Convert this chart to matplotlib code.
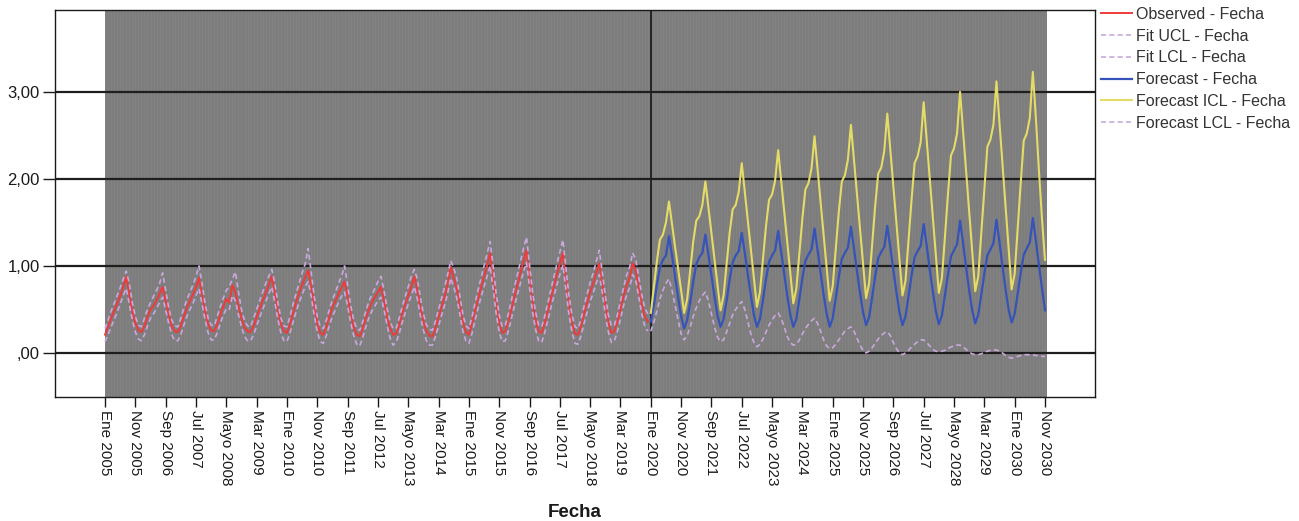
import numpy as np
import matplotlib
matplotlib.use("Agg")
from matplotlib import pyplot as plt

plt.rcParams["font.family"] = ["Liberation Sans", "DejaVu Sans"]

# x tick labels, one every 10 months starting Ene 2005
tick_labels = ["Ene 2005", "Nov 2005", "Sep 2006", "Jul 2007", "Mayo 2008", "Mar 2009",
               "Ene 2010", "Nov 2010", "Sep 2011", "Jul 2012", "Mayo 2013", "Mar 2014",
               "Ene 2015", "Nov 2015", "Sep 2016", "Jul 2017", "Mayo 2018", "Mar 2019",
               "Ene 2020", "Nov 2020", "Sep 2021", "Jul 2022", "Mayo 2023", "Mar 2024",
               "Ene 2025", "Nov 2025", "Sep 2026", "Jul 2027", "Mayo 2028", "Mar 2029",
               "Ene 2030", "Nov 2030"]
y_ticks = [0, 1, 2, 3]
y_tick_labels = [",00", "1,00", "2,00", "3,00"]

# monthly values Jan..Dec, one row per year (2005-2019)
observed = [
    [0.21, 0.30, 0.40, 0.48, 0.57, 0.66, 0.76, 0.88, 0.68, 0.48, 0.34, 0.26],
    [0.24, 0.31, 0.42, 0.50, 0.54, 0.61, 0.68, 0.76, 0.60, 0.44, 0.31, 0.25],
    [0.24, 0.31, 0.42, 0.52, 0.60, 0.67, 0.76, 0.86, 0.67, 0.48, 0.33, 0.26],
    [0.25, 0.33, 0.44, 0.53, 0.62, 0.58, 0.78, 0.70, 0.54, 0.40, 0.29, 0.25],
    [0.24, 0.31, 0.41, 0.51, 0.60, 0.69, 0.78, 0.88, 0.69, 0.49, 0.33, 0.25],
    [0.23, 0.33, 0.46, 0.58, 0.69, 0.78, 0.87, 0.95, 0.77, 0.54, 0.34, 0.23],
    [0.21, 0.30, 0.42, 0.52, 0.60, 0.68, 0.75, 0.82, 0.65, 0.45, 0.30, 0.21],
    [0.19, 0.28, 0.40, 0.50, 0.58, 0.64, 0.70, 0.76, 0.60, 0.42, 0.28, 0.21],
    [0.22, 0.32, 0.45, 0.56, 0.66, 0.76, 0.88, 0.72, 0.53, 0.36, 0.25, 0.20],
    [0.19, 0.29, 0.41, 0.53, 0.65, 0.79, 0.99, 0.86, 0.74, 0.56, 0.36, 0.24],
    [0.21, 0.33, 0.48, 0.62, 0.75, 0.88, 1.00, 1.15, 0.86, 0.56, 0.35, 0.23],
    [0.25, 0.36, 0.50, 0.65, 0.78, 0.92, 1.05, 1.18, 0.88, 0.58, 0.38, 0.25],
    [0.23, 0.34, 0.48, 0.62, 0.76, 0.90, 1.02, 1.15, 0.85, 0.55, 0.35, 0.22],
    [0.21, 0.31, 0.45, 0.58, 0.70, 0.80, 0.92, 1.03, 0.80, 0.55, 0.35, 0.23],
    [0.25, 0.36, 0.50, 0.65, 0.78, 0.86, 1.03, 0.95, 0.76, 0.56, 0.42, 0.36],
]
fit_ucl = [
    [0.28, 0.38, 0.48, 0.57, 0.66, 0.75, 0.85, 0.94, 0.80, 0.58, 0.42, 0.32],
    [0.30, 0.40, 0.50, 0.58, 0.65, 0.72, 0.80, 0.92, 0.72, 0.52, 0.38, 0.31],
    [0.30, 0.40, 0.52, 0.61, 0.70, 0.78, 0.88, 1.00, 0.80, 0.57, 0.40, 0.32],
    [0.31, 0.42, 0.53, 0.63, 0.72, 0.76, 0.85, 0.93, 0.70, 0.50, 0.37, 0.31],
    [0.30, 0.40, 0.50, 0.60, 0.70, 0.80, 0.88, 0.96, 0.80, 0.58, 0.40, 0.31],
    [0.30, 0.42, 0.56, 0.68, 0.80, 0.92, 1.02, 1.20, 0.92, 0.65, 0.42, 0.30],
    [0.28, 0.38, 0.50, 0.61, 0.70, 0.80, 0.88, 1.00, 0.78, 0.55, 0.38, 0.28],
    [0.26, 0.36, 0.48, 0.59, 0.67, 0.74, 0.82, 0.88, 0.72, 0.52, 0.36, 0.28],
    [0.28, 0.40, 0.53, 0.65, 0.76, 0.88, 0.96, 0.85, 0.64, 0.45, 0.32, 0.27],
    [0.26, 0.37, 0.50, 0.63, 0.76, 0.90, 1.06, 0.98, 0.86, 0.66, 0.45, 0.31],
    [0.28, 0.41, 0.57, 0.72, 0.86, 1.00, 1.14, 1.28, 1.00, 0.68, 0.44, 0.30],
    [0.32, 0.45, 0.60, 0.76, 0.90, 1.05, 1.20, 1.33, 1.02, 0.70, 0.47, 0.32],
    [0.30, 0.42, 0.57, 0.72, 0.87, 1.02, 1.16, 1.30, 0.98, 0.66, 0.44, 0.30],
    [0.28, 0.39, 0.54, 0.68, 0.81, 0.92, 1.05, 1.18, 0.93, 0.66, 0.44, 0.31],
    [0.32, 0.44, 0.60, 0.75, 0.89, 0.98, 1.15, 1.08, 0.88, 0.67, 0.52, 0.45],
]
fit_lcl = [
    [0.13, 0.21, 0.30, 0.38, 0.47, 0.56, 0.66, 0.74, 0.56, 0.38, 0.24, 0.16],
    [0.14, 0.21, 0.31, 0.40, 0.45, 0.51, 0.58, 0.64, 0.49, 0.34, 0.21, 0.14],
    [0.14, 0.21, 0.32, 0.42, 0.50, 0.57, 0.66, 0.74, 0.56, 0.38, 0.23, 0.15],
    [0.15, 0.23, 0.34, 0.43, 0.51, 0.50, 0.66, 0.60, 0.44, 0.30, 0.19, 0.14],
    [0.14, 0.21, 0.31, 0.41, 0.50, 0.59, 0.68, 0.76, 0.58, 0.39, 0.23, 0.14],
    [0.13, 0.23, 0.35, 0.47, 0.58, 0.67, 0.76, 0.82, 0.65, 0.43, 0.24, 0.13],
    [0.11, 0.20, 0.32, 0.42, 0.50, 0.58, 0.65, 0.70, 0.54, 0.35, 0.20, 0.10],
    [0.08, 0.18, 0.30, 0.40, 0.48, 0.54, 0.60, 0.64, 0.50, 0.32, 0.17, 0.09],
    [0.12, 0.22, 0.35, 0.46, 0.56, 0.66, 0.76, 0.62, 0.43, 0.26, 0.14, 0.09],
    [0.09, 0.19, 0.31, 0.43, 0.55, 0.68, 0.86, 0.76, 0.63, 0.45, 0.25, 0.14],
    [0.11, 0.22, 0.37, 0.51, 0.64, 0.76, 0.88, 1.00, 0.74, 0.45, 0.24, 0.13],
    [0.14, 0.25, 0.39, 0.54, 0.67, 0.80, 0.93, 1.04, 0.76, 0.47, 0.27, 0.14],
    [0.12, 0.23, 0.37, 0.51, 0.65, 0.78, 0.90, 1.01, 0.73, 0.44, 0.24, 0.11],
    [0.10, 0.20, 0.34, 0.47, 0.59, 0.69, 0.80, 0.90, 0.69, 0.44, 0.24, 0.12],
    [0.14, 0.25, 0.39, 0.54, 0.66, 0.75, 0.90, 0.84, 0.65, 0.45, 0.31, 0.25],
]

# forecast rows, 2020-2030 (last year ends in November)
forecast = [
    [0.36, 0.55, 0.78, 0.98, 1.07, 1.12, 1.34, 1.12, 0.88, 0.64, 0.42, 0.28],
    [0.38, 0.58, 0.82, 1.02, 1.10, 1.15, 1.36, 1.13, 0.89, 0.65, 0.43, 0.30],
    [0.39, 0.60, 0.84, 1.04, 1.12, 1.17, 1.38, 1.15, 0.90, 0.66, 0.44, 0.30],
    [0.39, 0.61, 0.85, 1.05, 1.12, 1.18, 1.40, 1.16, 0.91, 0.66, 0.44, 0.30],
    [0.39, 0.62, 0.86, 1.06, 1.13, 1.19, 1.43, 1.18, 0.92, 0.67, 0.45, 0.30],
    [0.40, 0.63, 0.87, 1.08, 1.15, 1.21, 1.45, 1.20, 0.94, 0.69, 0.47, 0.32],
    [0.41, 0.64, 0.88, 1.09, 1.16, 1.22, 1.46, 1.21, 0.95, 0.70, 0.47, 0.32],
    [0.42, 0.65, 0.89, 1.10, 1.17, 1.23, 1.48, 1.23, 0.96, 0.71, 0.48, 0.33],
    [0.43, 0.66, 0.90, 1.11, 1.18, 1.25, 1.52, 1.26, 0.98, 0.72, 0.49, 0.34],
    [0.44, 0.67, 0.91, 1.12, 1.19, 1.26, 1.53, 1.27, 0.99, 0.73, 0.50, 0.35],
    [0.45, 0.68, 0.92, 1.13, 1.20, 1.27, 1.55, 1.29, 1.01, 0.75, 0.49],
]
forecast_ucl = [
    [0.46, 0.75, 1.05, 1.30, 1.36, 1.50, 1.74, 1.48, 1.22, 0.97, 0.72, 0.46],
    [0.62, 0.95, 1.28, 1.52, 1.57, 1.70, 1.97, 1.67, 1.37, 1.08, 0.78, 0.49],
    [0.66, 1.02, 1.38, 1.65, 1.70, 1.85, 2.18, 1.85, 1.51, 1.18, 0.85, 0.53],
    [0.70, 1.08, 1.46, 1.76, 1.82, 1.98, 2.33, 1.98, 1.62, 1.27, 0.92, 0.57],
    [0.74, 1.14, 1.55, 1.88, 1.95, 2.12, 2.49, 2.11, 1.73, 1.35, 0.97, 0.60],
    [0.77, 1.19, 1.62, 1.97, 2.04, 2.22, 2.62, 2.22, 1.82, 1.42, 1.02, 0.63],
    [0.80, 1.24, 1.69, 2.06, 2.13, 2.32, 2.75, 2.33, 1.91, 1.49, 1.07, 0.66],
    [0.83, 1.29, 1.76, 2.18, 2.26, 2.42, 2.88, 2.44, 2.00, 1.56, 1.12, 0.69],
    [0.86, 1.33, 1.82, 2.27, 2.35, 2.52, 3.00, 2.54, 2.08, 1.62, 1.16, 0.71],
    [0.88, 1.38, 1.89, 2.37, 2.45, 2.62, 3.12, 2.64, 2.16, 1.68, 1.20, 0.73],
    [0.91, 1.43, 1.95, 2.44, 2.52, 2.70, 3.23, 2.70, 2.10, 1.55, 1.07],
]
forecast_lcl = [
    [0.25, 0.35, 0.48, 0.62, 0.72, 0.80, 0.85, 0.72, 0.55, 0.38, 0.22, 0.15],
    [0.20, 0.30, 0.42, 0.52, 0.60, 0.66, 0.70, 0.60, 0.45, 0.30, 0.18, 0.13],
    [0.15, 0.24, 0.34, 0.44, 0.50, 0.55, 0.59, 0.50, 0.36, 0.22, 0.12, 0.07],
    [0.10, 0.16, 0.24, 0.32, 0.38, 0.43, 0.46, 0.40, 0.30, 0.19, 0.12, 0.09],
    [0.10, 0.15, 0.22, 0.28, 0.33, 0.37, 0.40, 0.34, 0.25, 0.15, 0.08, 0.05],
    [0.06, 0.10, 0.15, 0.20, 0.25, 0.28, 0.30, 0.25, 0.17, 0.09, 0.03, 0.00],
    [0.02, 0.06, 0.11, 0.16, 0.20, 0.23, 0.245, 0.20, 0.12, 0.05, 0.00, -0.02],
    [0.00, 0.03, 0.07, 0.10, 0.13, 0.15, 0.15, 0.12, 0.08, 0.04, 0.02, 0.015],
    [0.02, 0.03, 0.05, 0.07, 0.08, 0.09, 0.09, 0.07, 0.04, 0.01, -0.01, -0.02],
    [-0.02, -0.01, 0.01, 0.02, 0.03, 0.035, 0.035, 0.02, 0.00, -0.03, -0.05, -0.06],
    [-0.05, -0.04, -0.03, -0.02, -0.02, -0.02, -0.02, -0.03, -0.03, -0.04, -0.04],
]

# flatten year rows into monthly series
obs = np.concatenate(observed)
ucl = np.concatenate(fit_ucl)
lcl = np.concatenate(fit_lcl)
fc = np.concatenate(forecast)
fc_ucl = np.concatenate(forecast_ucl)
fc_lcl = np.concatenate(forecast_lcl)
m_obs = np.arange(len(obs))
m_fc = np.arange(len(obs), len(obs) + len(fc))
m_all = np.arange(len(obs) + len(fc))

fig = plt.figure(figsize=(12.99, 5.21), dpi=100)
ax = fig.add_axes([55 / 1299, 1 - 397 / 521, 1040 / 1299, 387 / 521])
ax.set_xlim(-16.5, 326.5)
ax.set_ylim(-0.506, 3.94)

# dark grey band over the date range, with faint monthly stripes
ax.axvspan(m_all[0], m_all[-1] + 0.6, color="#7d7d7d", zorder=0, lw=0)
ax.vlines(m_all, 0, 1, transform=ax.get_xaxis_transform(),
          color="#848484", lw=0.6, zorder=0.5)

# reference lines
for v in y_ticks:
    ax.axhline(v, color="#1e1e1e", lw=1.6, zorder=1)
ax.axvline(m_fc[0], color="#1e1e1e", lw=1.3, zorder=1)

dash = (0, (3, 2))
lav = "#c9a8de"
ax.plot(m_obs, obs, color="#f03a3a", lw=1.4, label="Observed - Fecha", zorder=3)
ax.plot(m_obs, ucl, color=lav, lw=1.2, ls=dash, label="Fit UCL - Fecha", zorder=4)
ax.plot(m_obs, lcl, color=lav, lw=1.2, ls=dash, label="Fit LCL - Fecha", zorder=4)
ax.plot(m_fc, fc, color="#3553b8", lw=1.6, label="Forecast - Fecha", zorder=3)
ax.plot(m_fc, fc_ucl, color="#e4dc66", lw=1.5, label="Forecast ICL - Fecha", zorder=3)
ax.plot(m_fc, fc_lcl, color=lav, lw=1.2, ls=dash, label="Forecast LCL - Fecha", zorder=3)

# axes, ticks and labels
ax.set_xticks(np.arange(len(tick_labels)) * 10)
ax.set_xticklabels(tick_labels, rotation=-90, fontsize=11, color="#1a1a1a")
ax.set_yticks(y_ticks)
ax.set_yticklabels(y_tick_labels, fontsize=12, color="#1a1a1a")
ax.tick_params(axis="x", direction="out", length=7, width=1, color="#1a1a1a", pad=2)
ax.tick_params(axis="y", direction="out", length=9, width=1, color="#1a1a1a", pad=2)
for sp in ax.spines.values():
    sp.set_color("#1a1a1a")
    sp.set_linewidth(1)

ax.set_xlabel("Fecha", fontweight="bold", fontsize=13.5, color="#1a1a1a")
ax.xaxis.set_label_coords(0.5, -0.299)
ax.xaxis.label.set_va("center")

handles, labels = ax.get_legend_handles_labels()
leg = fig.legend(handles, labels, loc="upper left", bbox_to_anchor=(1101 / 1299, 1 - 7 / 521),
                 frameon=False, fontsize=11.5, handlelength=1.95, handletextpad=0.25,
                 labelspacing=0.42, borderaxespad=0, borderpad=0)
for t in leg.get_texts():
    t.set_color("#333333")

fig.savefig("out.png", dpi=100)
